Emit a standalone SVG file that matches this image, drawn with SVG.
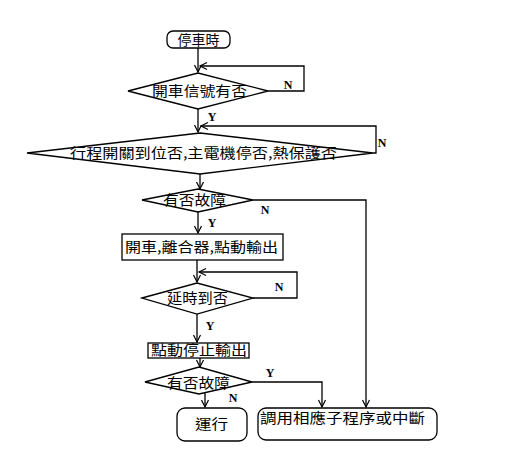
<svg xmlns="http://www.w3.org/2000/svg" width="518" height="466" viewBox="0 0 518 466">
<style>
.s{fill:none;stroke:#000;stroke-width:1.3}
.n{fill:#fff;stroke:#000;stroke-width:1.3}
.t{font-family:"Noto Sans CJK TC","Noto Sans CJK SC",sans-serif;font-size:14px;fill:#000}
.l{font-family:"Liberation Serif",serif;font-size:12px;font-weight:bold;fill:#000;text-anchor:middle}
</style>
<defs>
<marker id="a" markerWidth="10" markerHeight="10" refX="8" refY="5" orient="auto" markerUnits="userSpaceOnUse">
<polyline points="1,1.5 8,5 1,8.5" fill="none" stroke="#000" stroke-width="1.2"/>
</marker>
</defs>
<rect width="518" height="466" fill="#fff"/>
<g id="connectors" class="s">
<line x1="198" y1="48" x2="198" y2="72" marker-end="url(#a)"/>
<polyline points="268,91 304,91 304,66 200,66" marker-end="url(#a)"/>
<line x1="198" y1="109" x2="198" y2="132" marker-end="url(#a)"/>
<polyline points="373,153 376,153 376,126 201,126" marker-end="url(#a)"/>
<line x1="200" y1="174" x2="200" y2="189" marker-end="url(#a)"/>
<polyline points="253,200 366,200 366,407" marker-end="url(#a)"/>
<line x1="198" y1="212" x2="198" y2="233" marker-end="url(#a)"/>
<line x1="197" y1="260" x2="197" y2="282" marker-end="url(#a)"/>
<polyline points="253,298 297,298 297,272 199,272" marker-end="url(#a)"/>
<line x1="197" y1="314" x2="197" y2="342" marker-end="url(#a)"/>
<line x1="200" y1="358" x2="200" y2="367" marker-end="url(#a)"/>
<polyline points="252,382 322,382 322,407" marker-end="url(#a)"/>
<line x1="205" y1="392" x2="205" y2="407" marker-end="url(#a)"/>
</g>
<g id="start">
<rect class="n" x="167" y="31" width="63" height="17" rx="6"/>
<text class="t" x="198.5" y="45" text-anchor="middle">停車時</text>
</g>
<g id="d1">
<polygon class="n" points="128,91 198,73 268,91 198,109"/>
<text class="t" x="152" y="96" textLength="95" lengthAdjust="spacingAndGlyphs">開車信號有否</text>
<text class="l" x="288" y="89">N</text>
<text class="l" x="212" y="121">Y</text>
</g>
<g id="d2">
<polygon class="n" points="27,153 200,133 373,153 200,174"/>
<text class="t" x="70" y="158" textLength="267" lengthAdjust="spacingAndGlyphs">行程開關到位否,主電機停否,熱保護否</text>
<text class="l" x="382" y="147">N</text>
</g>
<g id="d3">
<polygon class="n" points="142,200 198,189 253,200 198,212"/>
<text class="t" x="163" y="205" textLength="63" lengthAdjust="spacingAndGlyphs">有否故障</text>
<text class="l" x="265" y="214">N</text>
<text class="l" x="212" y="227">Y</text>
</g>
<g id="b3">
<rect class="n" x="122" y="234" width="161" height="26"/>
<text class="t" x="125" y="252" textLength="153" lengthAdjust="spacingAndGlyphs">開車,離合器,點動輸出</text>
</g>
<g id="d4">
<polygon class="n" points="142,298 197,283 253,298 197,314"/>
<text class="t" x="167" y="303" textLength="61" lengthAdjust="spacingAndGlyphs">延時到否</text>
<text class="l" x="279" y="291">N</text>
<text class="l" x="210" y="330">Y</text>
</g>
<g id="b5">
<rect class="n" x="148" y="343" width="101" height="15" stroke-width="1.8"/>
<text class="t" x="151" y="355" font-size="13" textLength="96" lengthAdjust="spacingAndGlyphs">點動停止輸出</text>
</g>
<g id="d6">
<polygon class="n" points="145,382 199,367 252,382 199,394"/>
<text class="t" x="167" y="388" textLength="63" lengthAdjust="spacingAndGlyphs">有否故障</text>
<text class="l" x="270" y="377">Y</text>
<text class="l" x="233" y="402">N</text>
</g>
<g id="run">
<rect class="n" x="177" y="408" width="70" height="33" rx="8"/>
<text class="t" x="195" y="429" font-size="15" textLength="33" lengthAdjust="spacingAndGlyphs">運行</text>
</g>
<g id="sub">
<rect class="n" x="258" y="408" width="179" height="32" rx="8"/>
<text class="t" x="260" y="423" font-size="15" textLength="165" lengthAdjust="spacingAndGlyphs">調用相應子程序或中斷</text>
</g>
</svg>
